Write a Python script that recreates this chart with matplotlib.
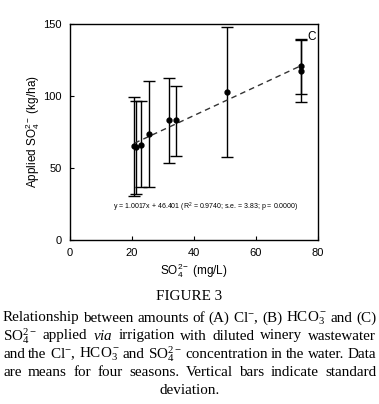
import matplotlib
matplotlib.use("Agg")
import matplotlib.pyplot as plt
import numpy as np

# data
so4_water = [20.8, 21.3, 23.0, 25.4, 32.0, 34.3, 50.6, 74.6, 74.6]
so4_applied = [65.0, 64.8, 66.3, 73.5, 83.0, 83.0, 102.7, 120.6, 117.1]
err_top = [99.5, 96.7, 96.7, 110.6, 112.2, 106.9, 147.9, 139.6, 138.6]
err_bot = [30.5, 32.0, 36.6, 36.6, 53.6, 58.2, 57.7, 101.3, 95.8]
slope, intercept = 1.0017, 46.401
x_ticks = [0, 20, 40, 60, 80]
y_ticks = [0, 50, 100, 150]

serif = 'Liberation Serif'
plt.rcParams['mathtext.fontset'] = 'custom'
plt.rcParams['mathtext.rm'] = serif
plt.rcParams['mathtext.it'] = serif + ':italic'

x = np.array(so4_water)
y = np.array(so4_applied)
yerr = [y - np.array(err_bot), np.array(err_top) - y]

W, H = 379, 404
fig = plt.figure(figsize=(W / 100, H / 100), dpi=100)
ax = fig.add_axes([70 / W, 1 - 240 / H, 248 / W, 216 / H])

ax.errorbar(x, y, yerr=yerr, fmt='o', color='black', ms=3.5,
            elinewidth=1, capsize=4, capthick=1)
xl = np.array([x.min(), x.max()])
ax.plot(xl, slope * xl + intercept, '--', color='#333333', lw=1, dashes=(4, 3))

ax.set_xlim(0, 80)
ax.set_ylim(0, 150)
ax.set_xticks(x_ticks)
ax.set_yticks(y_ticks)
ax.tick_params(direction='in', length=3, labelsize=8, colors='black', pad=6)
for lab in ax.get_xticklabels() + ax.get_yticklabels():
    lab.set_fontfamily('Liberation Sans')
for s in ax.spines.values():
    s.set_linewidth(1)

ax.set_xlabel(r'SO$\mathregular{_4^{2-}}$ (mg/L)', fontfamily='Liberation Sans',
              fontsize=8.5, labelpad=2)
ax.set_ylabel(r'Applied SO$\mathregular{_4^{2-}}$ (kg/ha)', fontfamily='Liberation Sans',
              fontsize=8.5, labelpad=1)
ax.text(43.7, 22.7, r'y = 1.0017x + 46.401 (R$\mathregular{^2}$ = 0.9740; s.e. = 3.83; p = 0.0000)',
        fontsize=5, ha='center', va='center', fontfamily='Liberation Sans')
ax.text(77.9, 140.8, 'C', fontsize=8.5, ha='center', va='center', fontfamily='Liberation Sans')

# caption
fs = 10.9
fig.text(0.5, 1 - 297 / H, 'FIGURE 3', ha='center', va='center',
         fontsize=fs, fontfamily=serif)
cap_lines = [
    r'Relationship between amounts of (A) Cl$\mathregular{^{-}}$, (B) HCO$\mathregular{_3^-}$ and (C)',
    r'SO$\mathregular{_4^{2-}}$ applied $\mathit{via}$ irrigation with diluted winery wastewater',
    r'and the Cl$\mathregular{^{-}}$, HCO$\mathregular{_3^-}$ and SO$\mathregular{_4^{2-}}$ concentration in the water. Data',
    'are means for four seasons. Vertical bars indicate standard',
]
renderer = fig.canvas.get_renderer()
left, right = 3, 376
for i, line in enumerate(cap_lines):
    yy = 1 - (318 + 18 * i) / H
    words = line.split(' ')
    texts = [fig.text(0, yy, w, ha='left', va='center', fontsize=fs, fontfamily=serif)
             for w in words]
    widths = [t.get_window_extent(renderer).width for t in texts]
    gap = (right - left - sum(widths)) / (len(words) - 1)
    pos = left
    for t, w in zip(texts, widths):
        t.set_x(pos / W)
        pos += w + gap
fig.text(0.5, 1 - 390 / H, 'deviation.', ha='center', va='center',
         fontsize=fs, fontfamily=serif)

fig.savefig('out.png', dpi=100)
